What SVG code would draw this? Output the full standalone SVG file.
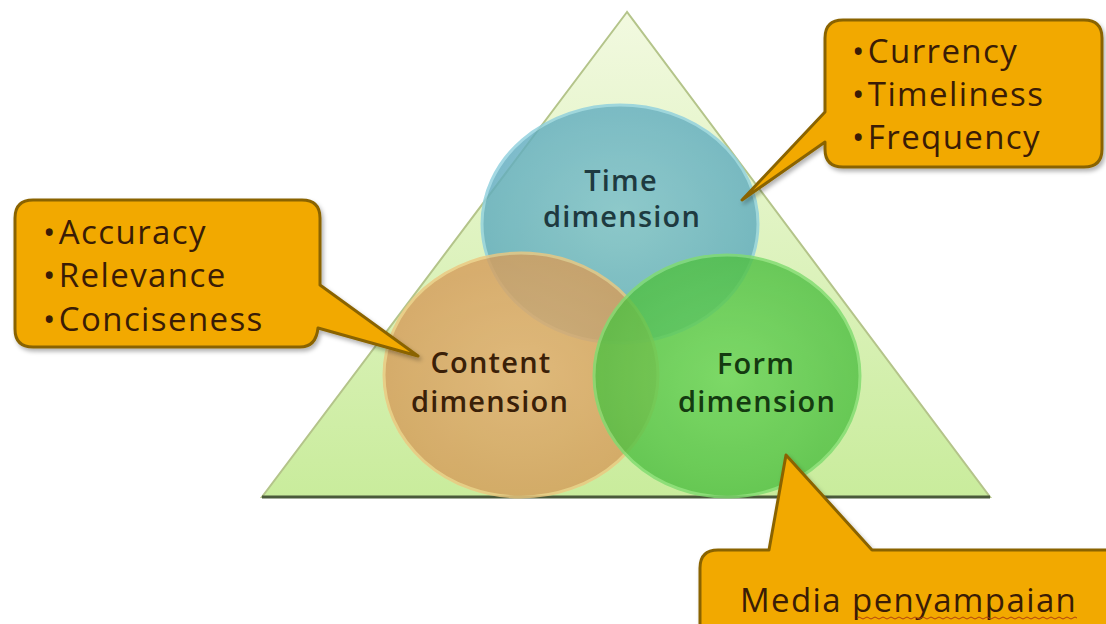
<svg xmlns="http://www.w3.org/2000/svg" width="1106" height="624" viewBox="0 0 1106 624">
<defs>
<linearGradient id="triG" x1="0" y1="0" x2="0" y2="1">
<stop offset="0" stop-color="#f2f9e0"/><stop offset="1" stop-color="#c9ec9c"/>
</linearGradient>
<radialGradient id="timeG" cx="0.5" cy="0.45" r="0.6">
<stop offset="0" stop-color="#7cc0cc"/><stop offset="1" stop-color="#5aa8bc"/>
</radialGradient>
<radialGradient id="contG" cx="0.5" cy="0.5" r="0.6">
<stop offset="0" stop-color="#e2ae70"/><stop offset="1" stop-color="#d39a58"/>
</radialGradient>
<radialGradient id="formG" cx="0.5" cy="0.5" r="0.6">
<stop offset="0" stop-color="#6ad458"/><stop offset="1" stop-color="#4cbc40"/>
</radialGradient>
<filter id="sh" x="-10%" y="-10%" width="130%" height="130%">
<feDropShadow dx="2" dy="3" stdDeviation="2" flood-color="#000" flood-opacity="0.3"/>
</filter>
</defs>
<style>
.call{fill:#f2a900;stroke:#8a6400;stroke-width:3;stroke-linejoin:round;filter:url(#sh)}
.ct{font-family:"Open Sans","Liberation Sans",sans-serif;font-size:33px;letter-spacing:1.4px;fill:#3a1c06}
.lbl{font-family:"Open Sans","Liberation Sans",sans-serif;font-size:29px;font-weight:600;letter-spacing:1.2px;text-anchor:middle}
.circ{stroke-width:3;opacity:0.82}
</style>
<rect width="1106" height="624" fill="#ffffff"/>
<g id="triangle">
<polygon points="627,12 262,497 990,497" fill="url(#triG)" stroke="#b4c48a" stroke-width="2"/>
<line x1="262" y1="497" x2="990" y2="497" stroke="#4a5a3a" stroke-width="3"/>
</g>
<g id="time-dimension">
<ellipse class="circ" cx="620" cy="224" rx="138" ry="119" fill="url(#timeG)" stroke="#8fd0de"/>
</g>
<g id="content-dimension">
<ellipse class="circ" cx="521" cy="375" rx="137" ry="122" fill="url(#contG)" stroke="#ecc880"/>
</g>
<g id="form-dimension">
<ellipse class="circ" cx="727" cy="376" rx="133" ry="121" fill="url(#formG)" stroke="#80dc70"/>
</g>
<g id="labels">
<text class="lbl" fill="#1e3a40" x="621" y="191">Time</text>
<text class="lbl" fill="#1e3a40" x="622" y="227">dimension</text>
<text class="lbl" fill="#3a2008" x="491" y="373">Content</text>
<text class="lbl" fill="#3a2008" x="490" y="412">dimension</text>
<text class="lbl" fill="#143a10" x="756" y="374">Form</text>
<text class="lbl" fill="#143a10" x="757" y="412">dimension</text>
</g>
<g id="connectors">
<path class="call" d="M843,20 H1084 Q1102,20 1102,38 V149 Q1102,167 1084,167 H843 Q825,167 825,149 V142 L742,200 L825,112 V38 Q825,20 843,20 Z"/>
<path class="call" d="M33,200 H302 Q320,200 320,218 V285 L418,356 L318,328 Q316,347 300,347 H33 Q15,347 15,329 V218 Q15,200 33,200 Z"/>
<path class="call" d="M718,550 H769 L786,455 L872,550 H1120 V640 H700 V568 Q700,550 718,550 Z"/>
</g>
<g id="callout-time">
<text class="ct" x="852" y="63">•<tspan dx="2">Currency</tspan></text>
<text class="ct" x="852" y="106">•<tspan dx="2">Timeliness</tspan></text>
<text class="ct" x="852" y="149">•<tspan dx="2">Frequency</tspan></text>
</g>
<g id="callout-content">
<text class="ct" x="43" y="244">•<tspan dx="2">Accuracy</tspan></text>
<text class="ct" x="43" y="287">•<tspan dx="2">Relevance</tspan></text>
<text class="ct" x="43" y="331">•<tspan dx="2">Conciseness</tspan></text>
</g>
<g id="callout-form">
<text class="ct" x="740" y="612">Media penyampaian</text>
<path d="M857,618 q2,-2 4,0 t4,0 t4,0 t4,0 t4,0 t4,0 t4,0 t4,0 t4,0 t4,0 t4,0 t4,0 t4,0 t4,0 t4,0 t4,0 t4,0 t4,0 t4,0 t4,0 t4,0 t4,0 t4,0 t4,0 t4,0 t4,0 t4,0 t4,0 t4,0 t4,0 t4,0 t4,0 t4,0 t4,0 t4,0 t4,0 t4,0 t4,0 t4,0 t4,0 t4,0 t4,0 t4,0 t4,0 t4,0 t4,0 t4,0 t4,0 t4,0 t4,0 t4,0 t4,0 t4,0 t4,0 t4,0" fill="none" stroke="#b04010" stroke-width="1"/>
</g>
</svg>
